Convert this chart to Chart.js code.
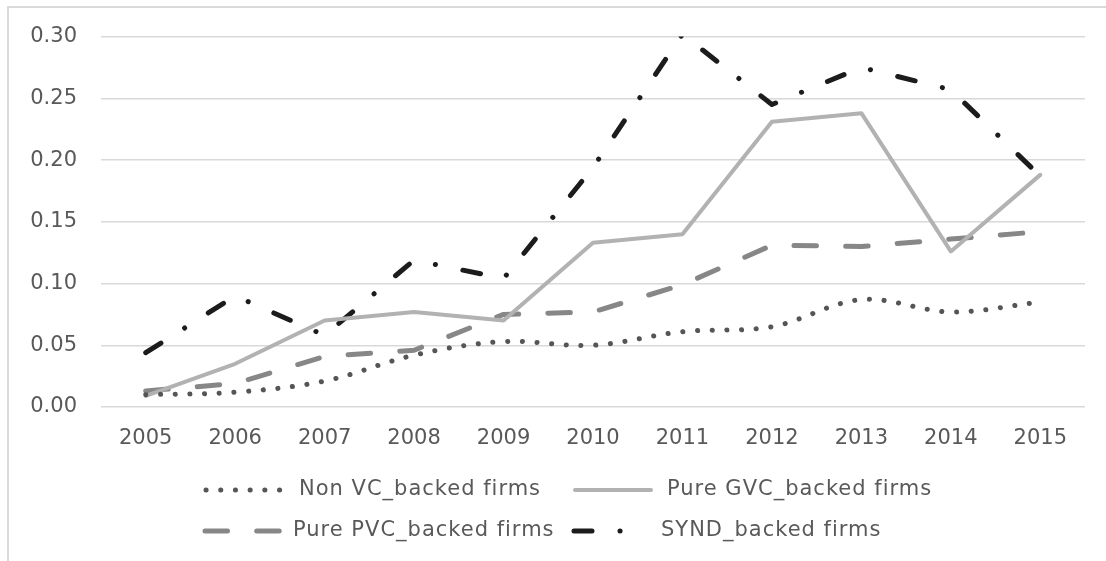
<!DOCTYPE html>
<html>
<head>
<meta charset="utf-8">
<script src="https://cdn.jsdelivr.net/npm/chart.js@4"></script>
<style>
    html, body { margin: 0; padding: 0; background: #ffffff; }
    .wrap { position: relative; width: 1106px; height: 561px; overflow: hidden; }
    .frame {
        position: absolute; left: 7px; top: 6px; width: 1200px; height: 700px;
        border-left: 2px solid #d9d9d9; border-top: 2px solid #d9d9d9;
    }
    canvas { position: absolute; left: 0; top: 0; }
</style>
</head>
<body>
<div class="wrap">
    <div class="frame"></div>
    <canvas id="firmChart" width="1106" height="561"></canvas>
</div>
<script>
// years on the x axis
const years = ['2005', '2006', '2007', '2008', '2009', '2010', '2011', '2012', '2013', '2014', '2015'];

// share per year for each group of firms
const nonVcBacked   = [0.010, 0.012, 0.021, 0.042, 0.053, 0.050, 0.061, 0.065, 0.087, 0.077, 0.085];
const pureGvcBacked = [0.009, 0.035, 0.070, 0.077, 0.070, 0.133, 0.140, 0.231, 0.238, 0.126, 0.188];
const purePvcBacked = [0.013, 0.019, 0.041, 0.046, 0.075, 0.077, 0.099, 0.131, 0.130, 0.136, 0.142];
const syndBacked    = [0.044, 0.090, 0.058, 0.119, 0.104, 0.194, 0.302, 0.245, 0.275, 0.257, 0.187];

const seriesNames = ['Non VC_backed firms', 'Pure GVC_backed firms', 'Pure PVC_backed firms', 'SYND_backed firms'];

// y axis ticks
const yTickValues = [0, 0.05, 0.10, 0.15, 0.20, 0.25, 0.30];

const TEXT_COLOR = '#595959';
const FONT = '"DejaVu Sans", sans-serif';

// legend slots (two rows, two columns), one per dataset
const legendSlots = [
    { y: 490, x0: 206, x1: 280, text: 299 },
    { y: 490, x0: 575, x1: 651, text: 667 },
    { y: 531, x0: 205, x1: 280, text: 293 },
    { y: 531, x0: 574, x1: 626, text: 661 }
];

const manualLegend = {
    id: 'manualLegend',
    afterDraw(chart) {
        const ctx = chart.ctx;
        chart.data.datasets.forEach((ds, i) => {
            const slot = legendSlots[i];
            ctx.save();
            ctx.strokeStyle = ds.borderColor;
            ctx.lineWidth = ds.borderWidth;
            ctx.lineCap = 'round';
            ctx.setLineDash(ds.borderDash || []);
            ctx.beginPath();
            ctx.moveTo(slot.x0, slot.y);
            ctx.lineTo(slot.x1, slot.y);
            ctx.stroke();
            ctx.restore();

            ctx.save();
            ctx.fillStyle = TEXT_COLOR;
            ctx.font = '21px ' + FONT;
            ctx.letterSpacing = '1px';
            ctx.textBaseline = 'middle';
            ctx.textAlign = 'left';
            ctx.fillText(ds.label, slot.text, slot.y);
            ctx.restore();
        });
    }
};

function makeSeries(label, data, color, width, dash, tension) {
    return {
        label: label,
        data: data,
        borderColor: color,
        backgroundColor: color,
        borderWidth: width,
        borderDash: dash,
        borderCapStyle: 'round',
        borderJoinStyle: 'round',
        pointRadius: 0,
        pointHoverRadius: 0,
        fill: false,
        tension: tension
    };
}

const ctx = document.getElementById('firmChart').getContext('2d');
const chart = new Chart(ctx, {
    type: 'line',
    data: {
        labels: years,
        datasets: [
            makeSeries(seriesNames[0], nonVcBacked, '#555555', 5, [0.1, 14.6], 0.35),
            makeSeries(seriesNames[1], pureGvcBacked, '#b2b2b2', 4, [], 0),
            makeSeries(seriesNames[2], purePvcBacked, '#878787', 5, [22.5, 29.2], 0),
            makeSeries(seriesNames[3], syndBacked, '#1c1c1c', 5, [18, 28, 0.1, 28], 0)
        ]
    },
    options: {
        responsive: false,
        animation: false,
        devicePixelRatio: 1,
        layout: {
            padding: { left: 0, top: 36, right: 21, bottom: 0 }
        },
        plugins: {
            legend: { display: false },
            tooltip: { enabled: false }
        },
        scales: {
            x: {
                offset: true,
                grid: { display: false, drawTicks: false },
                border: { display: false },
                ticks: {
                    color: TEXT_COLOR,
                    padding: 19,
                    maxRotation: 0,
                    font: { family: FONT, size: 21 }
                },
                afterFit: (scale) => { scale.height = 154; }
            },
            y: {
                min: 0,
                max: 0.3,
                grid: { color: '#d9d9d9', lineWidth: 1.5, drawTicks: false },
                border: { display: false },
                ticks: {
                    color: TEXT_COLOR,
                    padding: 24,
                    font: { family: FONT, size: 21 },
                    callback: (value) => value.toFixed(2)
                },
                afterBuildTicks: (scale) => {
                    scale.ticks = yTickValues.map(v => ({ value: v }));
                },
                afterFit: (scale) => { scale.width = 101; }
            }
        }
    },
    plugins: [manualLegend]
});
</script>
</body>
</html>
